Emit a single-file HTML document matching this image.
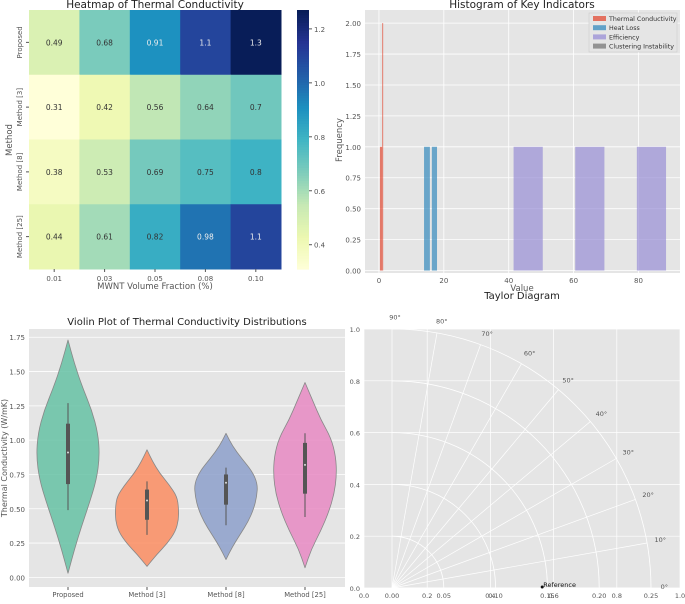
<!DOCTYPE html>
<html><head><meta charset="utf-8"><style>
body{margin:0;background:#fff;font-family:"Liberation Sans","DejaVu Sans",sans-serif;}
svg text{font-family:"DejaVu Sans","Liberation Sans",sans-serif;}
</style></head><body>
<svg id="c" width="685" height="599" xmlns="http://www.w3.org/2000/svg"></svg>
<script>
// ---------- DATA ----------
const hmRows=["Proposed","Method [3]","Method [8]","Method [25]"];
const hmCols=["0.01","0.03","0.05","0.08","0.10"];
const hmVals=[[0.49,0.68,0.91,1.1,1.27],[0.31,0.42,0.56,0.64,0.70],[0.38,0.53,0.69,0.75,0.80],[0.44,0.61,0.82,0.98,1.1]];
const hmLabels=[["0.49","0.68","0.91","1.1","1.3"],["0.31","0.42","0.56","0.64","0.7"],["0.38","0.53","0.69","0.75","0.8"],["0.44","0.61","0.82","0.98","1.1"]];
const cbTicks=[0.4,0.6,0.8,1.0,1.2];

const histSeries=["Thermal Conductivity","Heat Loss","Efficiency","Clustering Instability"];
const thermalLeft=[0.3,1.0], thermalRight=[1.0,1.3], thermalCount=[1,2];
const heatLeft=[13.9,16.3], heatRight=[15.7,17.9], heatCount=[1,1];
const effLeft=[41.5,60.5,79.5], effRight=[50.5,69.5,88.5], effCount=[1,1,1];
const histYTicks=[0,0.25,0.5,0.75,1.0,1.25,1.5,1.75,2.0];
const histXTicks=[0,20,40,60,80];

const vCats=["Proposed","Method [3]","Method [8]","Method [25]"];
const vMin=[0.03,0.08,0.13,0.07], vMax=[1.73,0.93,1.05,1.42];
const vProfile=[[0,0.08,0.17,0.27,0.36,0.40,0.38,0.30,0.18,0.08,0],
 [0,0.12,0.26,0.36,0.40,0.40,0.38,0.28,0.16,0.07,0],
 [0,0.08,0.18,0.28,0.35,0.39,0.40,0.33,0.20,0.08,0],
 [0,0.08,0.20,0.30,0.37,0.40,0.39,0.33,0.20,0.10,0]];
const vQ1=[0.68,0.42,0.53,0.61], vMed=[0.91,0.56,0.69,0.82], vQ3=[1.12,0.64,0.75,0.98];
const vWlo=[0.49,0.31,0.38,0.44], vWhi=[1.27,0.70,0.80,1.05];
const vYTicks=[0,0.25,0.5,0.75,1.0,1.25,1.5,1.75];
const vColors=["#66c2a5","#fc8d62","#8da0cb","#e78ac3"];

const tRTicks=[0,0.05,0.10,0.15,0.20,0.25];
const tAngles=[0,10,20,30,40,50,60,70,80,90];
const tCartTicks=[0,0.2,0.4,0.6,0.8,1.0];
const refStd=0.145;

// ---------- HELPERS ----------
const S=document.getElementById('c');const NS="http://www.w3.org/2000/svg";
function el(t,a,p){const e=document.createElementNS(NS,t);for(const k in a)e.setAttribute(k,a[k]);(p||S).appendChild(e);return e;}
function tx(x,y,s,o,p){o=o||{};const e=el('text',Object.assign({x:x,y:y,'font-size':o.fs||8,fill:o.fill||'#555','text-anchor':o.a||'middle'},o.tr?{transform:o.tr}:{}),p);e.textContent=s;return e;}
const ylg=["#ffffd9","#edf8b1","#c7e9b4","#7fcdbb","#41b6c4","#1d91c0","#225ea8","#253494","#081d58"];
function h2r(h){return[1,3,5].map(i=>parseInt(h.substr(i,2),16));}
function cmap(t){t=Math.max(0,Math.min(1,t));const f=t*(ylg.length-1),i=Math.min(Math.floor(f),ylg.length-2),u=f-i;const a=h2r(ylg[i]),b=h2r(ylg[i+1]);return`rgb(${a.map((v,k)=>Math.round(v+(b[k]-v)*u)).join(',')})`;}

// ---------- HEATMAP ----------
{const g=el('g',{});
const x0=29,x1=281,y0=10,y1=269,vmin=0.31,vmax=1.27;const cw=(x1-x0)/hmCols.length,ch=(y1-y0)/hmRows.length;
tx(155,8,"Heatmap of Thermal Conductivity",{fs:10.5,fill:'#222'},g);
hmVals.forEach((row,r)=>row.forEach((v,c)=>{const t=(v-vmin)/(vmax-vmin);
const rc=el('rect',{x:x0+c*cw,y:y0+r*ch,width:cw+0.5,height:ch+0.5,fill:cmap(t)},g);

tx(x0+c*cw+cw/2,y0+r*ch+ch/2+3,hmLabels[r][c],{fs:7.5,fill:t>0.55?'#eee':'#333'},g);}));
hmRows.forEach((n,r)=>{const y=y0+r*ch+ch/2;el('line',{x1:x0-3,x2:x0,y1:y,y2:y,stroke:'#555'},g);tx(22,y,n,{fs:7,tr:`rotate(-90 22 ${y})`},g);});
hmCols.forEach((n,c)=>{const x=x0+c*cw+cw/2;el('line',{x1:x,x2:x,y1:y1,y2:y1+3,stroke:'#555'},g);tx(x,y1+12,n,{fs:7},g);});
tx(155,289,"MWNT Volume Fraction (%)",{fs:8.5},g);tx(12,140,"Method",{fs:8.5,tr:'rotate(-90 12 140)'},g);
const cx=297,cwid=12;for(let i=0;i<100;i++){el('rect',{x:cx,y:y0+(y1-y0)*i/100,width:cwid,height:(y1-y0)/100+0.6,fill:cmap(1-i/100)},g);}
cbTicks.forEach(v=>{const y=y1-(v-vmin)/(vmax-vmin)*(y1-y0);el('line',{x1:cx+cwid,x2:cx+cwid+3,y1:y,y2:y,stroke:'#555'},g);tx(cx+cwid+5,y+3,v.toFixed(1),{fs:7,a:'start'},g);});
}

// ---------- HISTOGRAM ----------
{const g=el('g',{});
const X0=365,X1=680,Y0=10,Y1=273,xmin=-4.3,xmax=92.8,ymin=-0.02,ymax=2.106;
const X=v=>X0+(v-xmin)/(xmax-xmin)*(X1-X0),Y=v=>Y1-(v-ymin)/(ymax-ymin)*(Y1-Y0);
el('rect',{x:X0,y:Y0,width:X1-X0,height:Y1-Y0,fill:'#e5e5e5'},g);
histXTicks.forEach(v=>{el('line',{x1:X(v),x2:X(v),y1:Y0,y2:Y1,stroke:'#fff','stroke-width':0.8},g);tx(X(v),Y1+10,String(v),{fs:7},g);});
histYTicks.forEach(v=>{el('line',{x1:X0,x2:X1,y1:Y(v),y2:Y(v),stroke:'#fff','stroke-width':0.8},g);tx(X0-4,Y(v)+3,v.toFixed(2),{fs:7,a:'end'},g);});
function bars(L,R,C,col,name){L.forEach((l,i)=>{const b=el('rect',{x:X(l),y:Y(C[i]),width:X(R[i])-X(l),height:Y(0)-Y(C[i]),fill:col,opacity:0.7},g);});}
bars(thermalLeft,thermalRight,thermalCount,'#e24a33','bar-thermal-conductivity');
bars(heatLeft,heatRight,heatCount,'#348abd','bar-heat-loss');
bars(effLeft,effRight,effCount,'#988ed5','bar-efficiency');
tx(522,8,"Histogram of Key Indicators",{fs:10.5,fill:'#222'},g);
tx(522,291,"Value",{fs:8.5},g);tx(342,140,"Frequency",{fs:8.5,tr:'rotate(-90 342 140)'},g);
const lg=el('g',{},g);
el('rect',{x:589,y:13,width:88,height:39,fill:'#e5e5e5',stroke:'#ccc','stroke-width':0.6},lg);
const lc=['#e24a33','#348abd','#988ed5','#777'];histSeries.forEach((s,i)=>{el('rect',{x:593,y:16+i*9.2,width:13,height:5,fill:lc[i],opacity:0.75},lg);tx(609,21+i*9.2,s,{fs:6.3,a:'start',fill:'#333'},lg);});
}

// ---------- VIOLIN ----------
{const g=el('g',{});
const X0=29,X1=345,Y0=329,Y1=587,ymin=-0.07,ymax=1.81;const sp=79,xc0=68;
const Y=v=>Y1-(v-ymin)/(ymax-ymin)*(Y1-Y0);
el('rect',{x:X0,y:Y0,width:X1-X0,height:Y1-Y0,fill:'#e5e5e5'},g);
vYTicks.forEach(v=>{el('line',{x1:X0,x2:X1,y1:Y(v),y2:Y(v),stroke:'#fff','stroke-width':0.8},g);tx(X0-4,Y(v)+3,v.toFixed(2),{fs:7,a:'end'},g);});
tx(187,325,"Violin Plot of Thermal Conductivity Distributions",{fs:10,fill:'#222'},g);
tx(7,458,"Thermal Conductivity (W/mK)",{fs:8,tr:'rotate(-90 7 458)'},g);
vCats.forEach((c,i)=>{const xc=xc0+i*sp;const p=vProfile[i],n=p.length;let pts=[];
for(let k=0;k<n;k++){const v=vMin[i]+(vMax[i]-vMin[i])*k/(n-1);pts.push([xc+p[k]*sp,Y(v)]);}
for(let k=n-1;k>=0;k--){const v=vMin[i]+(vMax[i]-vMin[i])*k/(n-1);pts.push([xc-p[k]*sp,Y(v)]);}
let d="M"+pts[0].join(",");for(let k=1;k<pts.length;k++){const a=pts[k-1],b=pts[k];d+=` Q${a[0]},${a[1]} ${(a[0]+b[0])/2},${(a[1]+b[1])/2}`;}d+=` L${pts[pts.length-1].join(",")}Z`;
const vp=el('path',{d:d,fill:vColors[i],'fill-opacity':0.85,stroke:'#888','stroke-width':0.8,'stroke-linejoin':'round'},g);
el('line',{x1:xc,x2:xc,y1:Y(vWlo[i]),y2:Y(vWhi[i]),stroke:'#555','stroke-width':1},g);
el('rect',{x:xc-2,y:Y(vQ3[i]),width:4,height:Y(vQ1[i])-Y(vQ3[i]),fill:'#555'},g);
el('circle',{cx:xc,cy:Y(vMed[i]),r:1,fill:'#ddd'},g);
el('line',{x1:xc,x2:xc,y1:Y1,y2:Y1+3,stroke:'#555'},g);tx(xc,Y1+10,c,{fs:6.8},g);});
}

// ---------- TAYLOR ----------
{const g=el('g',{});
const X0=364,X1=680,Y0=329,Y1=588;const CX=x=>X0+x*(X1-X0),CY=y=>Y1-y*(Y1-Y0);
el('rect',{x:X0,y:Y0,width:X1-X0,height:Y1-Y0,fill:'#e5e5e5'},g);
tCartTicks.forEach(v=>{el('line',{x1:CX(v),x2:CX(v),y1:Y0,y2:Y1,stroke:'#fff','stroke-width':0.7},g);el('line',{x1:X0,x2:X1,y1:CY(v),y2:CY(v),stroke:'#fff','stroke-width':0.7},g);
tx(CX(v),Y1+10,v.toFixed(1),{fs:6.5},g);tx(X0-4,CY(v)+3,v.toFixed(1),{fs:6.5,a:'end'},g);});
tx(522,299,"Taylor Diagram",{fs:10,fill:'#222'},g);
const ox=392,oy=588,R=259,rmax=0.25;const P=(r,a)=>[ox+r/rmax*R*Math.cos(a*Math.PI/180),oy-r/rmax*R*Math.sin(a*Math.PI/180)];
tRTicks.forEach(r=>{if(r>0){const a=P(r,0),b=P(r,90);el('path',{d:`M${a[0]},${a[1]} A${r/rmax*R},${r/rmax*R} 0 0 0 ${b[0]},${b[1]}`,fill:'none',stroke:'#fff','stroke-width':0.8},g);}
tx(P(r,0)[0],Y1+10,r.toFixed(2),{fs:6.5},g);});
tAngles.forEach(a=>{const e=P(rmax,a);el('line',{x1:ox,y1:oy,x2:e[0],y2:e[1],stroke:'#fff','stroke-width':0.7},g);const l=P(rmax*1.04,a);tx(l[0]+3,l[1]+1,a+"°",{fs:6.5},g);});
const rp=P(refStd,0);const m=el('circle',{cx:rp[0],cy:rp[1]-1,r:1.5,fill:'#111'},g);
tx(rp[0]+1,rp[1]-1,"Reference",{fs:6.5,a:'start',fill:'#111'},g);
}
</script>
</body></html>
